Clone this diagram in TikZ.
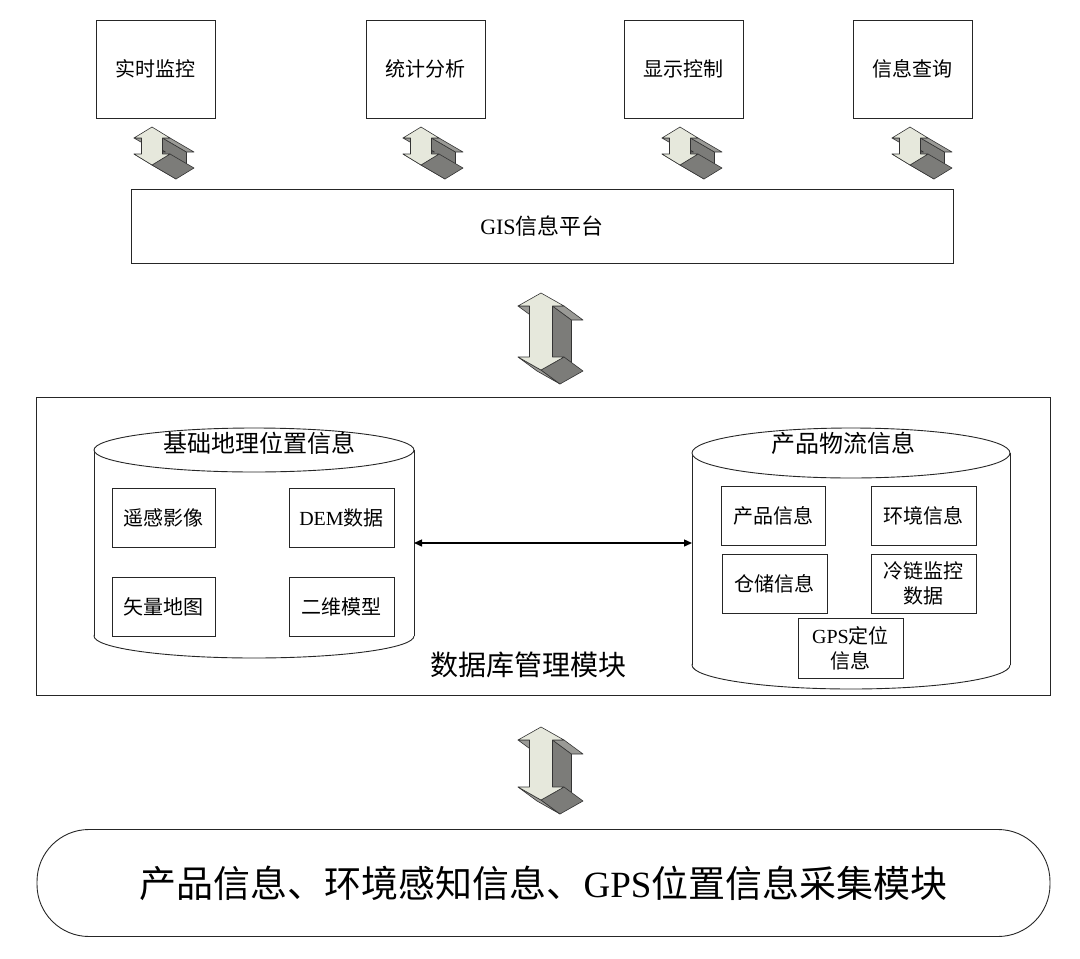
\documentclass[tikz,border=0pt]{standalone}
\usepackage{fontspec}
\setmainfont{Liberation Serif}
\newfontfamily\cjk{Noto Sans CJK SC}
\usepackage{xcolor}
\usetikzlibrary{calc}
\usetikzlibrary{arrows.meta}

\definecolor{arrowfront}{HTML}{E6E8DC}
\definecolor{arrowside}{HTML}{9A9A96}
\definecolor{arrowdark}{HTML}{7C7C79}

% centre x, tip y, length, head half width, head height, shaft half width, depth x, depth y
\newcommand{\ioarrow}[8]{%
    \begin{scope}[shift={(#1, #2)}, draw=black!80, line width=0.6pt, line join=round]
    \filldraw[fill=arrowdark] (#6, #5) -- (#6, {#3-#5}) -- ++(#7, #8) -- ++(0, {2*#5-#3}) -- cycle;
    \filldraw[fill=arrowside] (#4, #5) -- (#6, #5) -- ++(#7, #8) -- ++({#4-#6}, 0) -- cycle;
    \filldraw[fill=arrowside] (-#4, #5) -- (-#6, #5) -- ++(#7, #8) -- ++({#6-#4}, 0) -- cycle;
    \filldraw[fill=arrowside] (-#4, {#3-#5}) -- (0, #3) -- ++(#7, #8) -- ++(-#4, -#5) -- cycle;
    \filldraw[fill=arrowdark] (#4, {#3-#5}) -- (0, #3) -- ++(#7, #8) -- ++(#4, -#5) -- cycle;
    \filldraw[fill=arrowfront] (0, 0) -- (#4, #5) -- (#6, #5) -- (#6, {#3-#5}) -- (#4, {#3-#5})
        -- (0, #3) -- (-#4, {#3-#5}) -- (-#6, {#3-#5}) -- (-#6, #5) -- (-#4, #5) -- cycle;
    \end{scope}}

\begin{document}
\begin{tikzpicture}[x=1pt, y=-1pt, font=\cjk,
    box/.style={draw=black!85, line width=0.9pt, fill=white, inner sep=0pt, align=center},
    topbox/.style={box, minimum width=119pt, minimum height=98pt, font=\cjk\fontsize{20}{24}\selectfont},
    infobox/.style={box, minimum width=104pt, minimum height=59pt, font=\cjk\fontsize{20}{25}\selectfont},
    cyltitle/.style={font=\cjk\fontsize{24}{28}\selectfont}]
\useasboundingbox (0, 0) rectangle (1080, 959);

    \node[topbox] (rtMon) at (155.5, 69) {实时监控};
    \node[topbox] (statAna) at (425.5, 69) {统计分析};
    \node[topbox] (dispCtl) at (683.5, 69) {显示控制};
    \node[topbox] (infoQry) at (912.5, 69) {信息查询};

    \ioarrow{152}{127}{38}{18}{11}{10.5}{24}{14}
    \ioarrow{421}{127}{38}{18}{11}{10.5}{24}{14}
    \ioarrow{680}{127}{38}{18}{11}{10.5}{24}{14}
    \ioarrow{910}{127}{38}{18}{11}{10.5}{24}{14}

    \node[box, minimum width=822pt, minimum height=74pt, font=\cjk\fontsize{22}{24}\selectfont] (gis) at (542, 226) {\textrm{GIS}信息平台};

    \ioarrow{541}{293}{77}{23}{13}{11.5}{19}{14}

    % database module
    \draw[line width=0.9pt, black!85] (36, 397) rectangle (1050, 695);

    \draw[line width=0.9pt, black!85, fill=white] (254, 636) ellipse [x radius=160, y radius=22];
    \fill[white] (94, 450) rectangle (414, 636);
    \draw[line width=0.9pt, black!85] (94, 450) -- (94, 636) (414, 450) -- (414, 636);
    \draw[line width=0.9pt, black!85, fill=white] (254, 450) ellipse [x radius=160, y radius=22];
    \node[cyltitle] (geoTitle) at (259, 443) {基础地理位置信息};
        \node[infobox, minimum width=103pt] (rsImg) at (163.5, 517.5) {遥感影像};
        \node[infobox, minimum width=105pt] (demData) at (341.5, 517.5) {\textrm{DEM}数据};
        \node[infobox, minimum width=103pt] (vecMap) at (163.5, 606.5) {矢量地图};
        \node[infobox, minimum width=105pt] (twoModel) at (341.5, 606.5) {二维模型};

    \draw[line width=0.9pt, black!85, fill=white] (851, 665) ellipse [x radius=159, y radius=24];
    \fill[white] (692, 453) rectangle (1010, 665);
    \draw[line width=0.9pt, black!85] (692, 453) -- (692, 665) (1010, 453) -- (1010, 665);
    \draw[line width=0.9pt, black!85, fill=white] (851, 453) ellipse [x radius=159, y radius=25];
    \node[cyltitle] (logTitle) at (843, 443) {产品物流信息};
        \node[infobox] (prodInfo) at (773, 515.5) {产品信息};
        \node[infobox, minimum width=105pt] (envInfo) at (923.5, 515.5) {环境信息};
        \node[infobox, minimum width=105pt] (storInfo) at (774.5, 583.5) {仓储信息};
        \node[infobox, minimum width=105pt] (coldData) at (923.5, 583.5) {冷链监控\\数据};
        \node[infobox, minimum width=105pt, minimum height=60pt] (gpsInfo) at (850.5, 648) {\textrm{GPS}定位\\信息};

    \coordinate (geoE) at (414, 543);
    \coordinate (logW) at (692, 543);
    \draw[{Triangle[length=8pt, width=7pt]}-{Triangle[length=8pt, width=7pt]}, line width=1.4pt] (geoE) -- (logW);

    \node[font=\cjk\fontsize{28}{30}\selectfont] (dbm) at (528.5, 665) {数据库管理模块};

    \ioarrow{541}{727}{73}{23}{13}{11.5}{19}{14}

    \node[box, minimum width=1013pt, minimum height=107pt, rounded corners=52pt,
        font=\cjk\fontsize{37}{40}\selectfont] (collect) at (543.5, 883) {产品信息、环境感知信息、\textrm{GPS}位置信息采集模块};

\end{tikzpicture}
\end{document}
